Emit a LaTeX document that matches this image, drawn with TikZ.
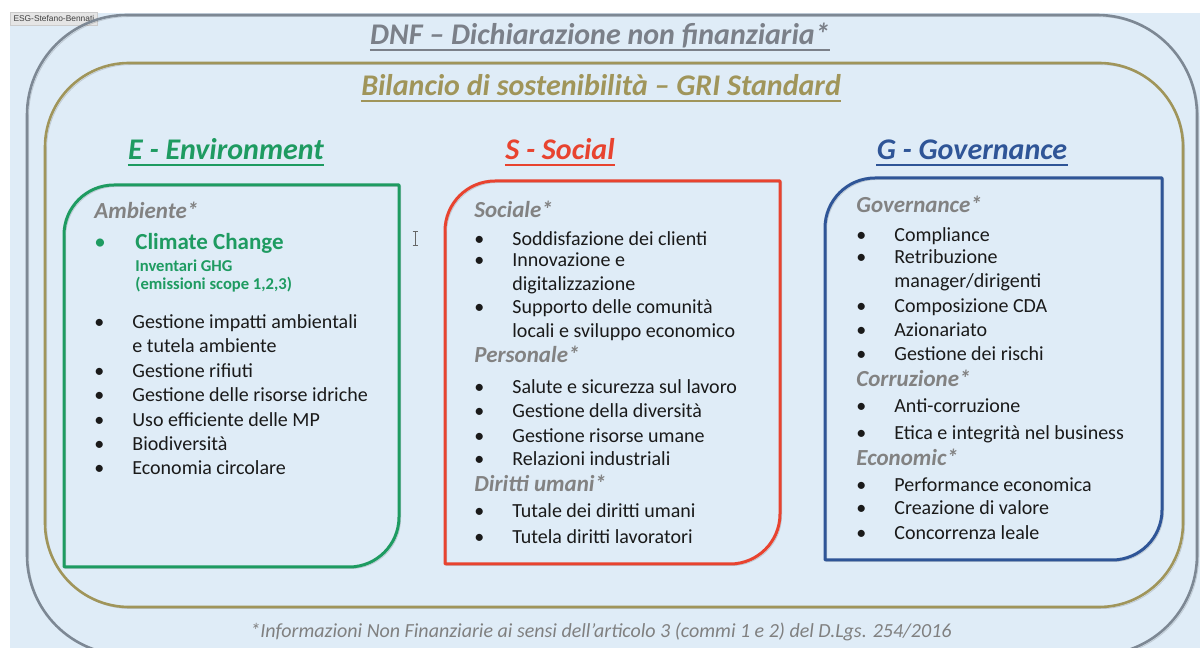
\documentclass[tikz,border=0pt]{standalone}
\usepackage{fontspec}
\setmainfont{Carlito}
\newfontfamily\tagfont{Liberation Sans}

\definecolor{bgblue}{HTML}{DFECF7}
\definecolor{framegray}{HTML}{7D8894}
\definecolor{olive}{HTML}{A0955A}
\definecolor{dnfgray}{HTML}{7B8089}
\definecolor{envgreen}{HTML}{1E9B61}
\definecolor{socred}{HTML}{E8432F}
\definecolor{govblue}{HTML}{2F5597}
\definecolor{hdrgray}{HTML}{828282}
\definecolor{txtblack}{HTML}{1A1A1A}

\begin{document}
\begin{tikzpicture}[x=0.5pt,y=0.5pt,
	title/.style={anchor=base, inner sep=0pt, font=\fontsize{15}{18}\selectfont\bfseries\itshape},
	hdr/.style={anchor=base west, inner sep=0pt, text=hdrgray, font=\fontsize{11.5}{14}\selectfont\bfseries\itshape},
	itm/.style={anchor=base west, inner sep=0pt, text=txtblack, font=\fontsize{10}{12}\selectfont,
		execute at begin node={\makebox[19pt][l]{\textbullet}}},
	cont/.style={anchor=base west, inner sep=0pt, text=txtblack, font=\fontsize{10}{12}\selectfont,
		execute at begin node={\hspace*{19pt}}},
	clim/.style={anchor=base west, inner sep=0pt, text=envgreen, font=\fontsize{11.5}{14}\selectfont\bfseries,
		execute at begin node={\makebox[20.5pt][l]{\mdseries\textbullet}}},
	sub/.style={anchor=base west, inner sep=0pt, text=envgreen, font=\fontsize{8.3}{10}\selectfont\bfseries,
		execute at begin node={\hspace*{20.5pt}}},
	frame/.style={line width=1.3pt, preaction={draw=black, opacity=0.15, transform canvas={shift={(0.8pt,-0.8pt)}}}},
	box/.style={line width=1.5pt, line join=round, preaction={draw=black, opacity=0.15, transform canvas={shift={(0.8pt,-0.8pt)}}}}]
	\useasboundingbox (0,0) rectangle (1200,648);
	% background
	\fill[white] (0,0) rectangle (1200,648);
	\fill[bgblue] (10,0) rectangle (1200,635);
	\node[anchor=north west, fill=black!10, draw=black!20, line width=0.3pt, inner sep=1.6pt,
		font=\tagfont\fontsize{4.2}{5}\selectfont, text=black!75] (tag) at (10,636) {ESG-Stefano-Bennati};
	% nested frames
	\draw[frame, framegray, rounded corners=50pt] (27,-7) rectangle (1197,633);
	\draw[frame, olive, rounded corners=42pt] (45,41) rectangle (1183,585);
	% the three pillars
	\foreach \l/\r/\t/\b/\c in {64/399/463/81/envgreen, 445/780/467/84/socred, 825/1162/470/88/govblue}
	{
		\draw[box, \c] (\l,\b) -- (\l,{\t-50}) arc[start angle=180, end angle=90, radius=25pt]
			-- (\r,\t) -- (\r,{\b+50}) arc[start angle=0, end angle=-90, radius=25pt] -- cycle;
	}
	% titles
	\node[title, text=dnfgray] (dnf) at (600,603) {DNF – Dichiarazione non finanziaria*};
	\node[title, text=olive] (gri) at (601,552) {Bilancio di sostenibilità – GRI Standard};
	\node[title, text=envgreen] (etit) at (226,488) {E - Environment};
	\node[title, text=socred] (stit) at (560,488) {S - Social};
	\node[title, text=govblue] (gtit) at (972,488) {G - Governance};
	\foreach \n/\c in {dnf/dnfgray, gri/olive, etit/envgreen, stit/socred, gtit/govblue}
		\draw[\c, line width=1pt] ([yshift=-2.5pt]\n.base west) -- ([yshift=-2.5pt]\n.base east);
	% E - environment
	\foreach \y/\s/\t [count=\i] in {219/hdr/Ambiente*, 250/clim/Climate Change, 272/sub/Inventari GHG,
		290/sub/{(emissioni scope 1,2,3)}, 329/itm/Gestione impatti ambientali, 353/cont/e tutela ambiente,
		378/itm/Gestione rifiuti, 402/itm/Gestione delle risorse idriche, 427/itm/Uso efficiente delle MP,
		451/itm/Biodiversità, 475/itm/Economia circolare}
		\node[\s] (env\i) at (94,{648-\y}) {\t};
	% S - social
	\foreach \y/\s/\t [count=\i] in {218/hdr/Sociale*, 246/itm/Soddisfazione dei clienti, 267/itm/Innovazione e,
		291/cont/digitalizzazione, 314/itm/Supporto delle comunità, 338/cont/locali e sviluppo economico,
		363/hdr/Personale*, 394/itm/Salute e sicurezza sul lavoro, 418/itm/Gestione della diversità,
		443/itm/Gestione risorse umane, 466/itm/Relazioni industriali, 492/hdr/Diritti umani*,
		518/itm/Tutale dei diritti umani, 544/itm/Tutela diritti lavoratori}
		\node[\s] (soc\i) at (474,{648-\y}) {\t};
	% G - governance
	\foreach \y/\s/\t [count=\i] in {213/hdr/Governance*, 242/itm/Compliance, 264/itm/Retribuzione,
		288/cont/{manager/dirigenti}, 313/itm/Composizione CDA, 337/itm/Azionariato,
		361/itm/Gestione dei rischi, 387/hdr/Corruzione*, 413/itm/Anti-corruzione,
		440/itm/Etica e integrità nel business, 466/hdr/Economic*, 492/itm/Performance economica,
		515/itm/Creazione di valore, 540/itm/Concorrenza leale}
		\node[\s] (gov\i) at (856,{648-\y}) {\t};
	% text cursor
	\draw[black!60, line width=0.4pt] (415,403) -- (415,417) (412.5,417) -- (417.5,417) (412.5,403) -- (417.5,403);
	% footnote
	\node[anchor=base, inner sep=0pt, text=black!50, font=\fontsize{10}{12}\selectfont\itshape] (note) at (601,10)
		{*Informazioni Non Finanziarie ai sensi dell'articolo 3 (commi 1 e 2) del D.Lgs. 254/2016};
\end{tikzpicture}
\end{document}
